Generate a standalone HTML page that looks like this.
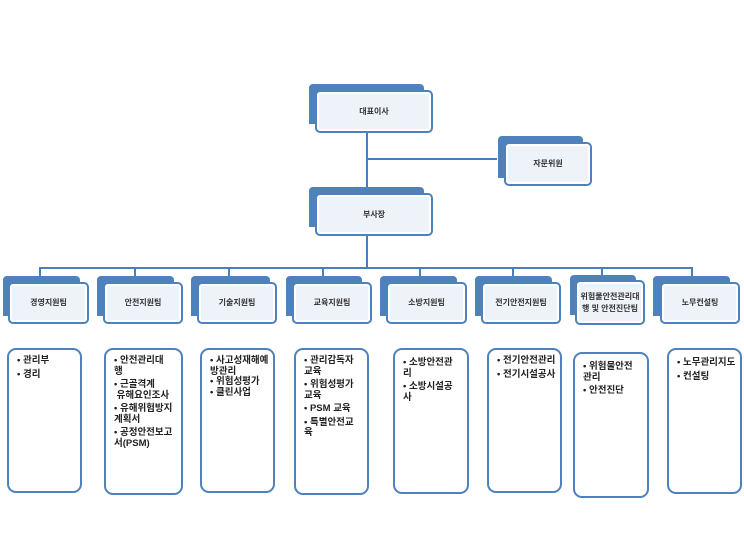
<!DOCTYPE html>
<html><head><meta charset="utf-8"><style>
body{margin:0;width:744px;height:537px;background:#fff;position:relative;overflow:hidden;font-family:"Liberation Sans","Noto Sans CJK KR","NanumGothic",sans-serif;}
.l{position:absolute;background:#4a7ebb;}
.b{position:absolute;background:#4f81bd;border-radius:4px 4px 0 0;}
.f{position:absolute;background:#eef3fa;border:2px solid #4f81bd;border-radius:5px;box-sizing:border-box;display:flex;align-items:center;justify-content:center;text-align:center;font-size:8px;font-weight:bold;color:#333;line-height:12px;box-shadow:inset 0 0 0 2px #fff;}
.d{position:absolute;background:#fff;border:2px solid #4f81bd;border-radius:9px;box-sizing:border-box;font-size:9.5px;font-weight:bold;color:#222;line-height:10.5px;padding:6px 4px 0 8px;}
.d p{margin:0 0 3px 0;}
</style></head><body>
<div class="l" style="left:366px;top:133px;width:2px;height:135px"></div>
<div class="l" style="left:367px;top:158px;width:130px;height:2px"></div>
<div class="l" style="left:39px;top:267px;width:654px;height:2px"></div>
<div class="l" style="left:39px;top:267px;width:2px;height:10px"></div>
<div class="l" style="left:134px;top:267px;width:2px;height:10px"></div>
<div class="l" style="left:228px;top:267px;width:2px;height:10px"></div>
<div class="l" style="left:322px;top:267px;width:2px;height:10px"></div>
<div class="l" style="left:419px;top:267px;width:2px;height:10px"></div>
<div class="l" style="left:512px;top:267px;width:2px;height:10px"></div>
<div class="l" style="left:601px;top:267px;width:2px;height:10px"></div>
<div class="l" style="left:691px;top:267px;width:2px;height:10px"></div>

<div class="b" style="left:309px;top:84px;width:115px;height:40px"></div>
<div class="f" style="left:315px;top:90px;width:118px;height:43px">대표이사</div>
<div class="b" style="left:498px;top:136px;width:85px;height:42px"></div>
<div class="f" style="left:504px;top:142px;width:88px;height:44px">자문위원</div>
<div class="b" style="left:309px;top:187px;width:115px;height:40px"></div>
<div class="f" style="left:315px;top:193px;width:118px;height:43px">부사장</div>

<div class="b" style="left:3px;top:276px;width:77px;height:40px"></div>
<div class="f" style="left:8px;top:282px;width:81px;height:42px">경영지원팀</div>
<div class="b" style="left:97px;top:276px;width:77px;height:40px"></div>
<div class="f" style="left:103px;top:282px;width:80px;height:42px">안전지원팀</div>
<div class="b" style="left:191px;top:276px;width:79px;height:40px"></div>
<div class="f" style="left:197px;top:282px;width:80px;height:42px">기술지원팀</div>
<div class="b" style="left:286px;top:276px;width:76px;height:40px"></div>
<div class="f" style="left:292px;top:282px;width:80px;height:42px">교육지원팀</div>
<div class="b" style="left:380px;top:276px;width:77px;height:40px"></div>
<div class="f" style="left:386px;top:282px;width:81px;height:42px">소방지원팀</div>
<div class="b" style="left:475px;top:276px;width:77px;height:40px"></div>
<div class="f" style="left:481px;top:282px;width:80px;height:42px">전기안전지원팀</div>
<div class="b" style="left:570px;top:275px;width:66px;height:40px"></div>
<div class="f" style="left:575px;top:280px;width:70px;height:45px">위험물안전관리대<br>행 및 안전진단팀</div>
<div class="b" style="left:653px;top:276px;width:77px;height:40px"></div>
<div class="f" style="left:660px;top:282px;width:80px;height:42px">노무컨설팅</div>

<div class="d" style="left:7px;top:348px;width:75px;height:145px"><p>• 관리부</p><p>• 경리</p></div>
<div class="d" style="left:104px;top:348px;width:79px;height:147px"><p>• 안전관리대<br>행</p><p>• 근골격계<br>&nbsp;유해요인조사</p><p>• 유해위험방지<br>계획서</p><p>• 공정안전보고<br>서(PSM)</p></div>
<div class="d" style="left:200px;top:348px;width:75px;height:145px"><p style="margin:0">• 사고성재해예<br>방관리</p><p style="margin:0">• 위험성평가</p><p>• 클린사업</p></div>
<div class="d" style="left:294px;top:348px;width:75px;height:147px"><p>• 관리감독자<br>교육</p><p>• 위험성평가<br>교육</p><p>• PSM 교육</p><p>• 특별안전교<br>육</p></div>
<div class="d" style="left:393px;top:348px;width:76px;height:146px"><p style="padding-top:2px">• 소방안전관<br>리</p><p>• 소방시설공<br>사</p></div>
<div class="d" style="left:487px;top:348px;width:75px;height:145px"><p>• 전기안전관리</p><p>• 전기시설공사</p></div>
<div class="d" style="left:573px;top:352px;width:76px;height:146px"><p style="padding-top:2px">• 위험물안전<br>관리</p><p>• 안전진단</p></div>
<div class="d" style="left:667px;top:348px;width:75px;height:146px"><p style="padding-top:2px">• 노무관리지도</p><p>• 컨설팅</p></div>
</body></html>
